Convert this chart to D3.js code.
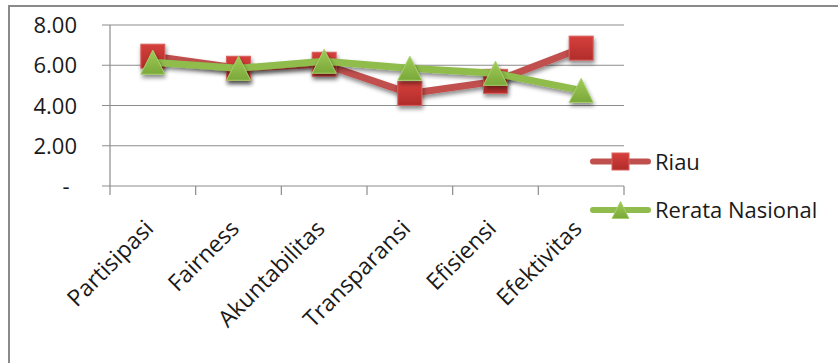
<!DOCTYPE html>
<html>
<head>
<meta charset="utf-8">
<script src="https://cdn.jsdelivr.net/npm/d3@7"></script>
<style>
  html, body { margin: 0; padding: 0; background: #fff; }
  svg { display: block; font-family: "Open Sans", "DejaVu Sans", sans-serif; }
</style>
</head>
<body>
<svg id="chart" width="838" height="363"></svg>
<script>
// Indicator categories (x axis)
const categories = ["Partisipasi", "Fairness", "Akuntabilitas", "Transparansi", "Efisiensi", "Efektivitas"];
// Series values
const riau = [6.45, 5.85, 6.05, 4.6, 5.2, 6.85];
const rerataNasional = [6.15, 5.85, 6.2, 5.85, 5.6, 4.75];
// Y axis ticks and labels
const yTicks = [0, 2, 4, 6, 8];
const yTickLabels = ["-", "2.00", "4.00", "6.00", "8.00"];
const seriesNames = ["Riau", "Rerata Nasional"];

const svg = d3.select("#chart");
const margin = { left: 110, right: 214, top: 25, bottom: 177 };
const W = 838, H = 363;
const plotW = W - margin.left - margin.right;
const plotH = H - margin.top - margin.bottom;

const defs = svg.append("defs");
const shadow = defs.append("filter").attr("id", "shadow")
  .attr("x", "-50%").attr("y", "-50%").attr("width", "200%").attr("height", "200%");
shadow.append("feDropShadow").attr("dx", 1).attr("dy", 3).attr("stdDeviation", 2)
  .attr("flood-color", "#000").attr("flood-opacity", 0.45);

const redGrad = defs.append("linearGradient").attr("id", "redGrad")
  .attr("x1", 0).attr("y1", 0).attr("x2", 0).attr("y2", 1);
redGrad.append("stop").attr("offset", "0%").attr("stop-color", "#d6403c");
redGrad.append("stop").attr("offset", "100%").attr("stop-color", "#b02c2a");
const greenGrad = defs.append("linearGradient").attr("id", "greenGrad")
  .attr("x1", 0).attr("y1", 0).attr("x2", 0).attr("y2", 1);
greenGrad.append("stop").attr("offset", "0%").attr("stop-color", "#9fcc55");
greenGrad.append("stop").attr("offset", "100%").attr("stop-color", "#7aa83a");

// Chart frame
svg.append("rect").attr("x", 9).attr("y", 6).attr("width", W + 20).attr("height", H + 20)
  .attr("fill", "#fff").attr("stroke", "#8a8a8a").attr("stroke-width", 2);

const g = svg.append("g").attr("transform", `translate(${margin.left},${margin.top})`);

const x = d3.scaleBand().domain(categories).range([0, plotW]).padding(0);
const y = d3.scaleLinear().domain([0, 8]).range([plotH, 0]);

// Horizontal gridlines
g.append("g").selectAll("line").data(yTicks).join("line")
  .attr("x1", -8).attr("x2", plotW)
  .attr("y1", d => y(d)).attr("y2", d => y(d))
  .attr("stroke", "#8c8c8c").attr("stroke-width", 1.2);

// Y axis line
g.append("line").attr("x1", 0).attr("x2", 0).attr("y1", 0).attr("y2", plotH)
  .attr("stroke", "#8c8c8c").attr("stroke-width", 1.2);

// X axis tick marks at band edges
const edges = categories.map(c => x(c)).concat([plotW]);
g.append("g").selectAll("line").data(edges).join("line")
  .attr("x1", d => d).attr("x2", d => d)
  .attr("y1", plotH).attr("y2", plotH + 9)
  .attr("stroke", "#8c8c8c").attr("stroke-width", 1.2);

// Y tick labels
g.append("g").selectAll("text").data(yTicks).join("text")
  .attr("x", (d, i) => yTickLabels[i] === "-" ? -44 : -33)
  .attr("y", d => y(d) + 8)
  .attr("text-anchor", (d, i) => yTickLabels[i] === "-" ? "middle" : "end")
  .attr("font-size", 22).attr("fill", "#1a1a1a")
  .text((d, i) => yTickLabels[i]);

// Rotated category labels
g.append("g").selectAll("text").data(categories).join("text")
  .attr("transform", d => `translate(${x(d) + x.bandwidth() / 2 + 2},${plotH + 44}) rotate(-45)`)
  .attr("text-anchor", "end")
  .attr("font-size", 23).attr("fill", "#1a1a1a")
  .text(d => d);

const line = d3.line().x((d, i) => x(categories[i]) + x.bandwidth() / 2).y(d => y(d));

function squareMarker(sel, s) {
  sel.append("rect").attr("x", -s / 2).attr("y", -s / 2).attr("width", s).attr("height", s)
    .attr("fill", "url(#redGrad)").attr("stroke", "#d9605c").attr("stroke-width", 1);
}
function triangleMarker(sel, s) {
  sel.append("path")
    .attr("d", `M0,${-s / 2} L${s / 2},${s / 2} L${-s / 2},${s / 2} Z`)
    .attr("fill", "url(#greenGrad)").attr("stroke", "#a6cf6a").attr("stroke-width", 1);
}

// Riau series
g.append("path").datum(riau).attr("d", line)
  .attr("fill", "none").attr("stroke", "#c0504d").attr("stroke-width", 7)
  .attr("stroke-linejoin", "round").attr("filter", "url(#shadow)");
g.append("g").selectAll("g").data(riau).join("g")
  .attr("transform", (d, i) => `translate(${x(categories[i]) + x.bandwidth() / 2},${y(d)})`)
  .attr("filter", "url(#shadow)")
  .each(function () { squareMarker(d3.select(this), 24); });

// Rerata Nasional series
g.append("path").datum(rerataNasional).attr("d", line)
  .attr("fill", "none").attr("stroke", "#8fbc4c").attr("stroke-width", 7)
  .attr("stroke-linejoin", "round").attr("filter", "url(#shadow)");
g.append("g").selectAll("g").data(rerataNasional).join("g")
  .attr("transform", (d, i) => `translate(${x(categories[i]) + x.bandwidth() / 2},${y(d)})`)
  .attr("filter", "url(#shadow)")
  .each(function () { triangleMarker(d3.select(this), 24); });

// Legend
const legend = svg.append("g");
const legendRows = [
  { name: seriesNames[0], color: "#c0504d", y: 161.5, marker: squareMarker },
  { name: seriesNames[1], color: "#8fbc4c", y: 210, marker: triangleMarker }
];
legendRows.forEach(r => {
  legend.append("line").attr("x1", 593).attr("x2", 648).attr("y1", r.y).attr("y2", r.y)
    .attr("stroke", r.color).attr("stroke-width", 6).attr("stroke-linecap", "round");
  const m = legend.append("g").attr("transform", `translate(620.5,${r.y})`);
  r.marker(m, 17);
  legend.append("text").attr("x", 655).attr("y", r.y + 8)
    .attr("font-size", 22).attr("fill", "#1a1a1a").text(r.name);
});
</script>
</body>
</html>
